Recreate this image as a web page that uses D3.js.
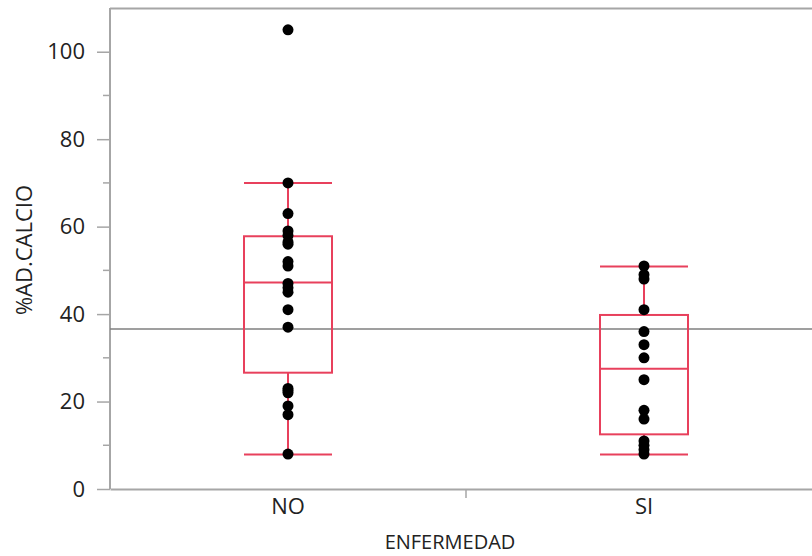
<!DOCTYPE html>
<html>
<head>
<meta charset="utf-8">
<script src="https://cdn.jsdelivr.net/npm/d3@7"></script>
<style>
  body { margin: 0; background: #fff; }
  text { font-family: "Open Sans", "Noto Sans", sans-serif; fill: #222; }
</style>
</head>
<body>
<div id="chart"></div>
<script>
// Data
var groups = ["NO", "SI"];
var valuesNO = [105, 70, 63, 59, 58, 56.5, 56, 52, 51, 47, 46, 45, 41, 37, 23, 22.5, 22, 19, 17, 8];
var valuesSI = [51, 49, 48, 41, 36, 33, 30, 25, 18, 16, 11, 10, 9, 8];
var q1 = [26.6, 12.5];
var median = [47.2, 27.5];
var q3 = [57.8, 39.8];
var whiskerLow = [7.9, 7.9];
var whiskerHigh = [70, 50.9];
var grandMean = 36.6;
var yTicks = [0, 20, 40, 60, 80, 100];
var yMinorTicks = [10, 30, 50, 70, 90];

var svgWidth = 812;
var svgHeight = 556;

var margin = { top: 8, right: -10, bottom: 67, left: 110 };
var width = svgWidth - margin.left - margin.right;
var height = svgHeight - margin.top - margin.bottom;

var svg = d3.select("#chart")
    .append("svg")
    .attr("width", svgWidth)
    .attr("height", svgHeight);

var chartGroup = svg.append("g")
    .attr("transform", `translate(${margin.left}, ${margin.top})`);

var x = d3.scaleBand().domain(groups).range([0, width]);
var y = d3.scaleLinear().domain([0, 110]).range([height, 0]);

var red = "#e8405c";
var axisGray = "#a6a6a6";

// frame top line
chartGroup.append("line")
    .attr("x1", 0).attr("x2", width)
    .attr("y1", 0.5).attr("y2", 0.5)
    .attr("stroke", axisGray).attr("stroke-width", 2);

// y axis
var leftAxis = d3.axisLeft(y).tickValues(yTicks).tickSize(13).tickPadding(12);
var yAxisG = chartGroup.append("g").call(leftAxis);
yAxisG.select(".domain").attr("stroke", axisGray).attr("stroke-width", 2)
    .attr("d", `M0,${height}V0`);
yAxisG.selectAll(".tick line").attr("stroke", axisGray).attr("stroke-width", 1.5);
yAxisG.selectAll(".tick text").style("font-size", "22px").attr("fill", "#222");

chartGroup.append("g")
    .selectAll("line")
    .data(yMinorTicks)
    .enter()
    .append("line")
    .attr("x1", -7).attr("x2", 0)
    .attr("y1", d => y(d)).attr("y2", d => y(d))
    .attr("stroke", axisGray).attr("stroke-width", 1.5);

// x axis
var bottomAxis = d3.axisBottom(x).tickSize(0).tickPadding(9);
var xAxisG = chartGroup.append("g")
    .attr("transform", `translate(0, ${height})`)
    .call(bottomAxis);
xAxisG.select(".domain").attr("stroke", axisGray).attr("stroke-width", 2);
xAxisG.selectAll(".tick text").style("font-size", "22px").attr("fill", "#222");

// divider tick between groups
chartGroup.append("line")
    .attr("x1", x("SI")).attr("x2", x("SI"))
    .attr("y1", height).attr("y2", height + 9)
    .attr("stroke", axisGray).attr("stroke-width", 1.5);

// grand mean line
chartGroup.append("line")
    .attr("x1", 0).attr("x2", width)
    .attr("y1", y(grandMean)).attr("y2", y(grandMean))
    .attr("stroke", "#7f7f7f").attr("stroke-width", 1.5);

// box plots
var boxW = 88;
groups.forEach(function(g, i) {
    var cx = x(g) + x.bandwidth() / 2;
    var bg = chartGroup.append("g").attr("stroke", red).attr("stroke-width", 2).attr("fill", "none");
    bg.append("line")
        .attr("x1", cx).attr("x2", cx)
        .attr("y1", y(whiskerLow[i])).attr("y2", y(q1[i]));
    bg.append("line")
        .attr("x1", cx).attr("x2", cx)
        .attr("y1", y(q3[i])).attr("y2", y(whiskerHigh[i]));
    bg.append("rect")
        .attr("x", cx - boxW / 2).attr("width", boxW)
        .attr("y", y(q3[i])).attr("height", y(q1[i]) - y(q3[i]));
    [whiskerLow[i], median[i], whiskerHigh[i]].forEach(function(v) {
        bg.append("line")
            .attr("x1", cx - boxW / 2).attr("x2", cx + boxW / 2)
            .attr("y1", y(v)).attr("y2", y(v));
    });
});

// points
var points = valuesNO.map(v => ({ g: "NO", v: v }))
    .concat(valuesSI.map(v => ({ g: "SI", v: v })));
chartGroup.append("g")
    .selectAll("circle")
    .data(points)
    .enter()
    .append("circle")
    .attr("cx", d => x(d.g) + x.bandwidth() / 2)
    .attr("cy", d => y(d.v))
    .attr("r", 5.5)
    .attr("fill", "#000");

// axis titles
svg.append("text")
    .attr("x", 450).attr("y", 549)
    .attr("text-anchor", "middle")
    .style("font-size", "20px")
    .text("ENFERMEDAD");

svg.append("text")
    .attr("transform", "translate(32, 250) rotate(-90)")
    .attr("text-anchor", "middle")
    .style("font-size", "22px")
    .text("%AD.CALCIO");
</script>
</body>
</html>
